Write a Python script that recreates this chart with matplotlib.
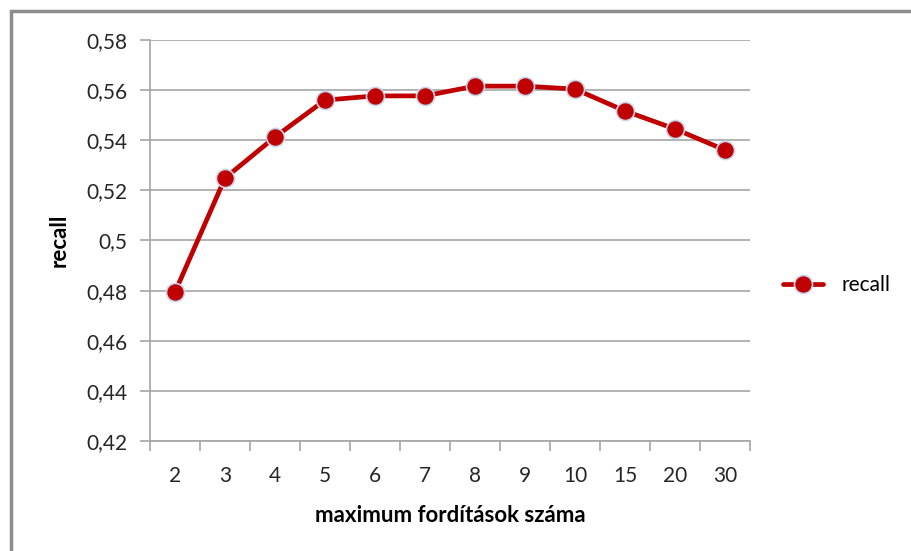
import numpy as np
import matplotlib
matplotlib.use("Agg")
from matplotlib import pyplot as plt
from matplotlib.patches import Rectangle

categories = ['2', '3', '4', '5', '6', '7', '8', '9', '10', '15', '20', '30']
recall = [0.4794, 0.5249, 0.5413, 0.5560, 0.5577, 0.5577, 0.5616, 0.5616, 0.5604, 0.5517, 0.5445, 0.5361]
yticks = [0.42, 0.44, 0.46, 0.48, 0.50, 0.52, 0.54, 0.56, 0.58]
ytick_labels = ['0,42', '0,44', '0,46', '0,48', '0,5', '0,52', '0,54', '0,56', '0,58']

plt.rcParams['font.family'] = ['Lato', 'DejaVu Sans']

fig = plt.figure(figsize=(9.12, 5.51), dpi=100)
# chart frame, runs off the right and bottom edges of the picture
fig.patches.append(Rectangle((11/912, -20/551), 940/912, 560/551, transform=fig.transFigure,
                             fill=False, edgecolor='#8c8c8c', linewidth=2.5))

ax = fig.add_axes([150/912, 110/551, 600/912, 401/551])
x = np.arange(len(categories))
red = '#c00000'
ax.plot(x, recall, color=red, linewidth=3.4, marker='o', markersize=13,
        markerfacecolor=red, markeredgecolor='#c9d3ea', markeredgewidth=1.2,
        label='recall', solid_capstyle='round')

ax.set_xlim(-0.5, len(categories) - 0.5)
ax.set_ylim(0.42, 0.58)
ax.set_yticks(yticks)
ax.set_yticklabels(ytick_labels)
ax.set_xticks(x)
ax.set_xticklabels(categories)
ax.set_xticks(np.arange(-0.5, len(categories), 1), minor=True)

ax.grid(axis='y', color='#a6a6a6', linewidth=1.2)
ax.set_axisbelow(True)
for s in ['top', 'right']:
    ax.spines[s].set_visible(False)
for s in ['left', 'bottom']:
    ax.spines[s].set_color('#a6a6a6')
    ax.spines[s].set_linewidth(1.2)

ax.tick_params(axis='y', length=7, color='#a6a6a6', width=1.2, labelsize=15, pad=9, labelcolor='#262626')
ax.tick_params(axis='x', which='major', length=0, labelsize=15, pad=18, labelcolor='#262626')
ax.tick_params(axis='x', which='minor', length=7, color='#a6a6a6', width=1.2)

ax.set_xlabel('maximum fordítások száma', fontsize=16, fontweight='bold', labelpad=14)
ax.set_ylabel('recall', fontsize=16, fontweight='bold', labelpad=12)

fig.legend(*ax.get_legend_handles_labels(), loc='center left',
           bbox_to_anchor=(783/912, 1 - 285/551), bbox_transform=fig.transFigure,
           frameon=False, fontsize=15, borderpad=0, borderaxespad=0,
           handlelength=1.9, handletextpad=0.9)

fig.savefig('out.png', dpi=100)
